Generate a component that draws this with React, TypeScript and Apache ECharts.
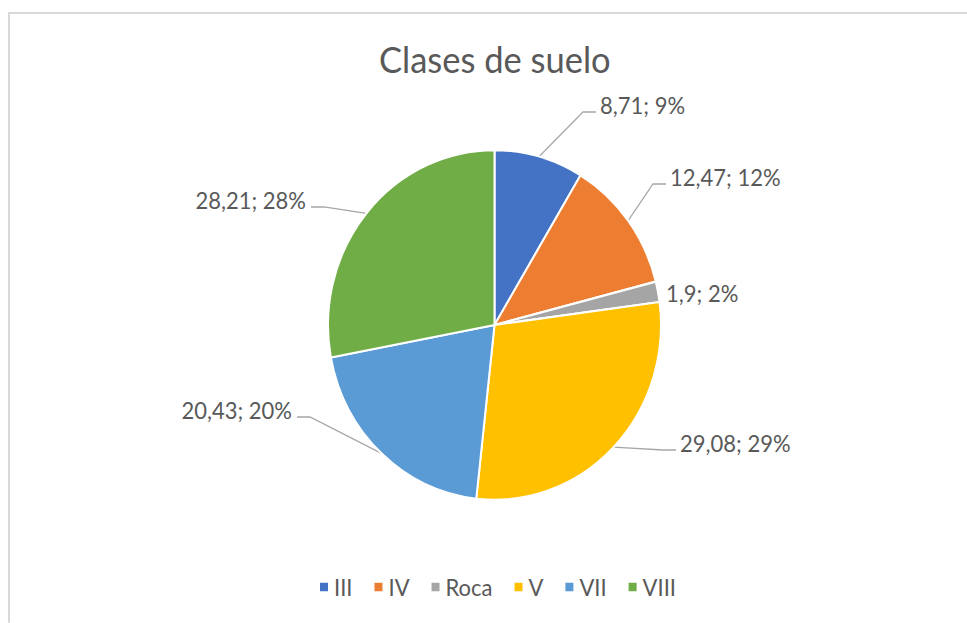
import React, { useEffect, useRef } from "react";
import * as echarts from "echarts";

// ---- data ----
const categories = ["III", "IV", "Roca", "V", "VII", "VIII"];
const values = [8.71, 12.47, 1.9, 29.08, 20.43, 28.21];
const colors = ["#4472C4", "#ED7D31", "#A5A5A5", "#FFC000", "#5B9BD5", "#70AD47"];
const chartTitle = "Clases de suelo";

// ---- layout / style ----
const W = 967;
const H = 623;
const K = 1.05; // the reference is stretched vertically by ~5%
const FONT = "Lato, 'Open Sans', sans-serif";
const TEXT = "#595959";
// label anchors in page pixels: x = text edge next to the leader, y = text centre
const labelAnchors = [
  { x: 600, y: 105, side: "left", line: true },
  { x: 670, y: 177, side: "left", line: true },
  { x: 666, y: 293, side: "left", line: false },
  { x: 680, y: 443, side: "left", line: true },
  { x: 292, y: 410, side: "right", line: true },
  { x: 306, y: 200, side: "right", line: true },
];

export default function App() {
  const ref = useRef<HTMLDivElement>(null);
  useEffect(() => {
    const chart = echarts.init(ref.current!, null, { renderer: "svg" });
    const total = values.reduce((a, b) => a + b, 0);
    const fmt = (v: number) => String(v).replace(".", ",");
    chart.setOption({
      animation: false,
      title: {
        text: chartTitle,
        left: 374,
        top: 34,
        textStyle: { fontFamily: FONT, fontSize: 34.5, fontWeight: "normal", color: TEXT },
      },
      legend: {
        data: categories,
        left: 313,
        top: 543,
        icon: "rect",
        itemWidth: 10,
        itemHeight: 10,
        itemGap: 20,
        textStyle: { fontFamily: FONT, fontSize: 22, color: TEXT },
      },
      graphic: [
        {
          type: "rect",
          silent: true,
          z: -10,
          shape: { x: 9, y: 13 / K, width: 1000, height: 700 },
          style: { fill: "none", stroke: "#d9d9d9", lineWidth: 2 },
        },
      ],
      series: [
        {
          type: "pie",
          center: [494.5, 309.5],
          radius: 166.5,
          startAngle: 90,
          clockwise: true,
          avoidLabelOverlap: false,
          itemStyle: { borderColor: "#ffffff", borderWidth: 2 },
          emphasis: { disabled: true },
          label: {
            show: true,
            position: "outside",
            fontFamily: FONT,
            fontSize: 22,
            color: TEXT,
            formatter: (p: any) => `${fmt(p.value)}; ${Math.round((p.value / total) * 100)}%`,
          },
          labelLine: { show: true, lineStyle: { color: "#a6a6a6", width: 1.2 } },
          labelLayout: (p: any) => {
            const a = labelAnchors[p.dataIndex];
            const left = a.side === "left";
            const ty = a.y / K;
            const ly = (a.y + 7) / K;
            const endX = left ? a.x - 4 : a.x + 5;
            const elbowX = left ? endX - 13 : endX + 13;
            const start = p.labelLinePoints ? p.labelLinePoints[0] : [endX, ly];
            const out: any = {
              x: a.x,
              y: ty,
              align: left ? "left" : "right",
              verticalAlign: "middle",
            };
            out.labelLinePoints = a.line
              ? [start, [elbowX, ly], [endX, ly]]
              : [start, start, start];
            return out;
          },
          data: categories.map((name, i) => ({
            name,
            value: values[i],
            itemStyle: { color: colors[i] },
            labelLine: { show: labelAnchors[i].line },
          })),
        },
      ],
    });
    return () => chart.dispose();
  }, []);
  return (
    <div
      ref={ref}
      style={{
        position: "fixed",
        left: 0,
        top: 0,
        width: W,
        height: H / K,
        transform: `scaleY(${K})`,
        transformOrigin: "0 0",
        background: "#ffffff",
      }}
    />
  );
}
